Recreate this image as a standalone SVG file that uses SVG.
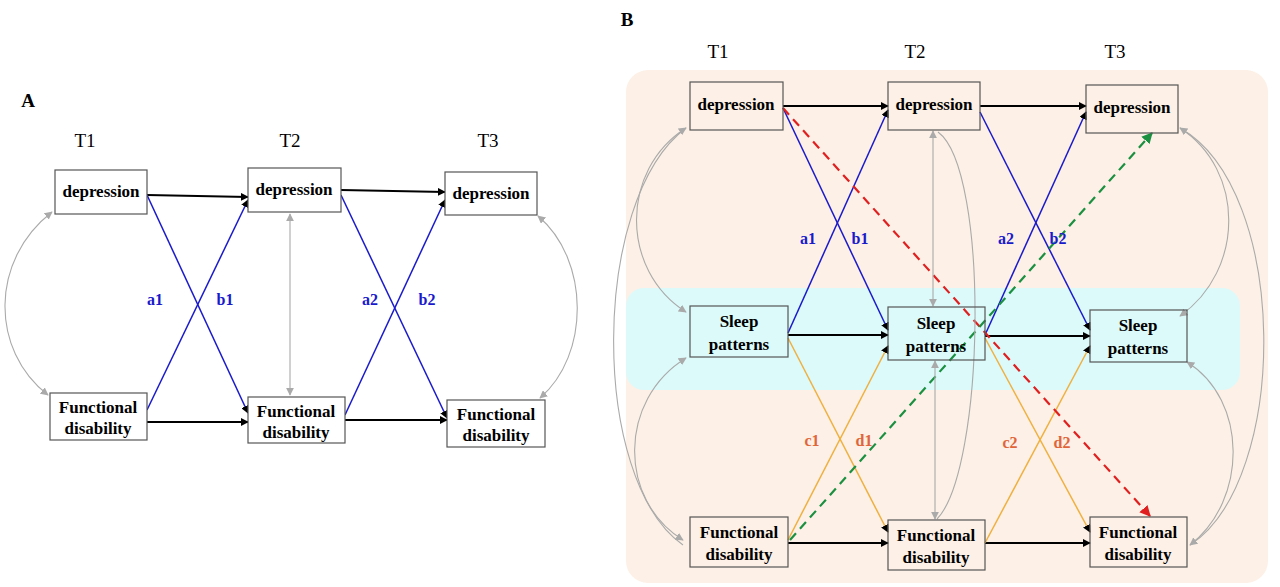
<svg xmlns="http://www.w3.org/2000/svg" width="1280" height="587" viewBox="0 0 1280 587">
<defs>
<style>
.box{fill:#fff;stroke:#555;stroke-width:1.2}
.boxb{fill:none;stroke:#555;stroke-width:1.2}
.t{font-family:"Liberation Serif",serif;font-weight:bold;font-size:17px;text-anchor:middle;fill:#000}
.h{font-family:"Liberation Serif",serif;font-size:19px;text-anchor:middle;fill:#000}
.lb{font-family:"Liberation Serif",serif;font-weight:bold;font-size:16px;text-anchor:middle;fill:#1a1acc}
.lo{font-family:"Liberation Serif",serif;font-weight:bold;font-size:16px;text-anchor:middle;fill:#e0653a}
.k{stroke:#000;stroke-width:1.8;fill:none}
.bl{stroke:#1a1acc;stroke-width:1.5;fill:none}
.or{stroke:#f0b040;stroke-width:1.5;fill:none}
.g{stroke:#aaa;stroke-width:1.1;fill:none}
.rd{stroke:#e02020;stroke-width:2.2;stroke-dasharray:9,6;fill:none}
.gr{stroke:#1a9040;stroke-width:2.2;stroke-dasharray:9,6;fill:none}
</style>
<marker id="ak" viewBox="0 0 10 10" refX="9" refY="5" markerWidth="8" markerHeight="8" orient="auto-start-reverse" markerUnits="userSpaceOnUse"><path d="M0,0L10,5L0,10z" fill="#000"/></marker>
<marker id="ag" viewBox="0 0 10 10" refX="9" refY="5" markerWidth="8" markerHeight="8" orient="auto-start-reverse" markerUnits="userSpaceOnUse"><path d="M0,0L10,5L0,10z" fill="#aaa"/></marker>
<marker id="ar" viewBox="0 0 10 10" refX="9" refY="5" markerWidth="11" markerHeight="11" orient="auto" markerUnits="userSpaceOnUse"><path d="M0,0L10,5L0,10z" fill="#e02020"/></marker>
<marker id="agr" viewBox="0 0 10 10" refX="9" refY="5" markerWidth="11" markerHeight="11" orient="auto" markerUnits="userSpaceOnUse"><path d="M0,0L10,5L0,10z" fill="#1a9040"/></marker>
</defs>
<rect width="1280" height="587" fill="#fff"/>
<rect x="626" y="70" width="642" height="513" rx="22" fill="#fdf0e6"/>
<rect x="626" y="288" width="614" height="102" rx="18" fill="#dcfafa"/>

<g id="headers">
<text x="28" y="107" class="h" font-weight="bold" font-size="21">A</text>
<text x="85" y="147" class="h">T1</text><text x="290" y="147" class="h">T2</text><text x="488" y="147" class="h">T3</text>
<text x="627" y="26" class="h" font-weight="bold" font-size="21">B</text>
<text x="718" y="58" class="h">T1</text><text x="915" y="58" class="h">T2</text><text x="1115" y="58" class="h">T3</text>
</g>

<g id="connectors">
<path class="k" d="M147,195L248,197" marker-end="url(#ak)"/>
<path class="k" d="M341,190L445,192" marker-end="url(#ak)"/>
<path class="k" d="M147,422L248,422" marker-end="url(#ak)"/>
<path class="k" d="M345,420L447,420" marker-end="url(#ak)"/>
<path class="bl" d="M147,195L248,413" marker-end="url(#ak)"/>
<path class="bl" d="M147,410L248,200" marker-end="url(#ak)"/>
<path class="bl" d="M341,195L447,418" marker-end="url(#ak)"/>
<path class="bl" d="M345,415L445,200" marker-end="url(#ak)"/>
<path class="g" d="M290,214L290,395" marker-start="url(#ag)" marker-end="url(#ag)"/>
<path class="g" d="M52,212C-10,260 -10,350 48,395" marker-start="url(#ag)" marker-end="url(#ag)"/>
<path class="g" d="M538,216C590,260 590,355 540,398" marker-start="url(#ag)" marker-end="url(#ag)"/>
<path class="k" d="M783,106L888,106" marker-end="url(#ak)"/>
<path class="k" d="M980,106L1086,106" marker-end="url(#ak)"/>
<path class="k" d="M788,335L888,335" marker-end="url(#ak)"/>
<path class="k" d="M985,336L1090,336" marker-end="url(#ak)"/>
<path class="k" d="M788,543L888,543" marker-end="url(#ak)"/>
<path class="k" d="M985,543L1090,543" marker-end="url(#ak)"/>
<path class="bl" d="M783,108L888,330" marker-end="url(#ak)"/>
<path class="bl" d="M788,333L888,110" marker-end="url(#ak)"/>
<path class="bl" d="M980,112L1090,330" marker-end="url(#ak)"/>
<path class="bl" d="M985,335L1086,112" marker-end="url(#ak)"/>
<path class="or" d="M788,338L888,532" marker-end="url(#ak)"/>
<path class="or" d="M788,540L888,346" marker-end="url(#ak)"/>
<path class="or" d="M985,338L1090,532" marker-end="url(#ak)"/>
<path class="or" d="M985,543L1090,346" marker-end="url(#ak)"/>
<path class="rd" d="M783,108L1150,516" marker-end="url(#ar)"/>
<path class="gr" d="M790,540L1152,133" marker-end="url(#agr)"/>
<path class="g" d="M933,131L933,306" marker-start="url(#ag)" marker-end="url(#ag)"/>
<path class="g" d="M935,361L935,519" marker-start="url(#ag)" marker-end="url(#ag)"/>
<path class="g" d="M938,132C990,170 985,470 937,519"/>
<path class="g" d="M686,128C620,170 620,270 686,312" marker-start="url(#ag)" marker-end="url(#ag)"/>
<path class="g" d="M686,358C618,400 618,500 683,540" marker-start="url(#ag)" marker-end="url(#ag)"/>
<path class="g" d="M686,128C590,200 590,480 683,545"/>
<path class="g" d="M1180,128C1245,170 1245,270 1180,316" marker-start="url(#ag)" marker-end="url(#ag)"/>
<path class="g" d="M1187,362C1248,400 1248,500 1190,545" marker-start="url(#ag)" marker-end="url(#ag)"/>
<path class="g" d="M1180,128C1290,190 1290,480 1190,545"/>
</g>

<g id="labels">
<text x="155" y="305" class="lb">a1</text><text x="225" y="305" class="lb">b1</text>
<text x="370" y="305" class="lb">a2</text><text x="427" y="305" class="lb">b2</text>
<text x="808" y="244" class="lb">a1</text><text x="860" y="244" class="lb">b1</text>
<text x="1006" y="244" class="lb">a2</text><text x="1058" y="244" class="lb">b2</text>
<text x="812" y="446" class="lo">c1</text><text x="864" y="446" class="lo">d1</text>
<text x="1010" y="448" class="lo">c2</text><text x="1062" y="448" class="lo">d2</text>
</g>

<g id="A_dep1"><rect class="box" x="55" y="170" width="92" height="44"/><text class="t" x="101" y="197">depression</text></g>
<g id="A_dep2"><rect class="box" x="248" y="168" width="93" height="44"/><text class="t" x="294" y="195">depression</text></g>
<g id="A_dep3"><rect class="box" x="445" y="172" width="92" height="43"/><text class="t" x="491" y="199">depression</text></g>
<g id="A_fun1"><rect class="box" x="50" y="393" width="97" height="47"/><text class="t" x="98" y="413">Functional</text><text class="t" x="98" y="434">disability</text></g>
<g id="A_fun2"><rect class="box" x="248" y="397" width="97" height="46"/><text class="t" x="296" y="417">Functional</text><text class="t" x="296" y="438">disability</text></g>
<g id="A_fun3"><rect class="box" x="447" y="400" width="98" height="47"/><text class="t" x="496" y="420">Functional</text><text class="t" x="496" y="441">disability</text></g>

<g id="B_dep1"><rect class="boxb" x="690" y="82" width="93" height="48"/><text class="t" x="736" y="110">depression</text></g>
<g id="B_dep2"><rect class="boxb" x="888" y="82" width="92" height="48"/><text class="t" x="934" y="110">depression</text></g>
<g id="B_dep3"><rect class="boxb" x="1086" y="85" width="92" height="48"/><text class="t" x="1132" y="113">depression</text></g>
<g id="B_sl1"><rect class="boxb" x="690" y="306" width="98" height="51"/><text class="t" x="739" y="327">Sleep</text><text class="t" x="739" y="350">patterns</text></g>
<g id="B_sl2"><rect class="boxb" x="888" y="307" width="97" height="53"/><text class="t" x="936" y="329">Sleep</text><text class="t" x="936" y="352">patterns</text></g>
<g id="B_sl3"><rect class="boxb" x="1090" y="310" width="97" height="52"/><text class="t" x="1138" y="331">Sleep</text><text class="t" x="1138" y="354">patterns</text></g>
<g id="B_fun1"><rect class="boxb" x="690" y="517" width="98" height="50"/><text class="t" x="739" y="538">Functional</text><text class="t" x="739" y="560">disability</text></g>
<g id="B_fun2"><rect class="boxb" x="888" y="520" width="97" height="50"/><text class="t" x="936" y="541">Functional</text><text class="t" x="936" y="563">disability</text></g>
<g id="B_fun3"><rect class="boxb" x="1090" y="517" width="97" height="50"/><text class="t" x="1138" y="538">Functional</text><text class="t" x="1138" y="560">disability</text></g>
</svg>
